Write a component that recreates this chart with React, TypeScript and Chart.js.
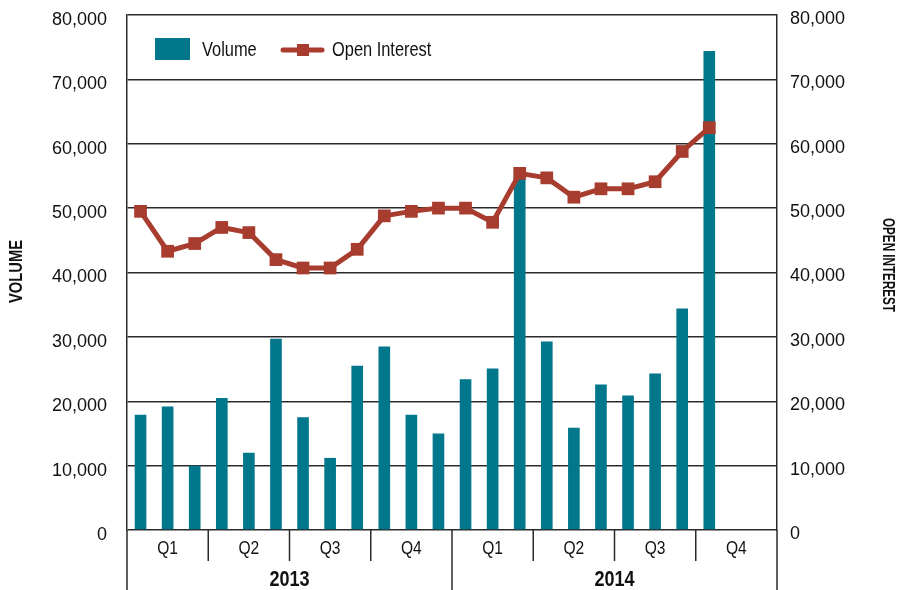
import React, { useEffect, useRef } from 'react';
import { Chart, registerables } from 'chart.js';

Chart.register(...registerables);

const months = [
  'Jan 2013', 'Feb 2013', 'Mar 2013', 'Apr 2013', 'May 2013', 'Jun 2013',
  'Jul 2013', 'Aug 2013', 'Sep 2013', 'Oct 2013', 'Nov 2013', 'Dec 2013',
  'Jan 2014', 'Feb 2014', 'Mar 2014', 'Apr 2014', 'May 2014', 'Jun 2014',
  'Jul 2014', 'Aug 2014', 'Sep 2014', 'Oct 2014', 'Nov 2014', 'Dec 2014',
];
const volume = [
  17900, 19200, 10000, 20500, 12000, 29700, 17500, 11200, 25500, 28500, 17900, 15000,
  23400, 25100, 55000, 29300, 15900, 22600, 20900, 24300, 34400, 74400, null, null,
];
const openInterest = [
  49500, 43300, 44500, 47000, 46200, 42000, 40700, 40700, 43600, 48800, 49500, 50000,
  50000, 47800, 55400, 54700, 51700, 53000, 53000, 54100, 58800, 62500, null, null,
];
const quarters = ['Q1', 'Q2', 'Q3', 'Q4'];
const years = ['2013', '2014'];
const axisMin = 0;
const axisMax = 80000;
const axisStep = 10000;

const FONT = '"Liberation Sans", Arial, sans-serif';
const NARROW = 0.82;
const TEAL = '#00778B';
const RED = '#A83C2F';
const INK = '#111111';
const RULE = '#2a2a2a';

// draw text horizontally condensed (emulates a narrow face)
function narrowText(
  ctx: CanvasRenderingContext2D,
  text: string,
  x: number,
  y: number,
  align: 'left' | 'center' | 'right',
  sx: number,
) {
  const w = ctx.measureText(text).width * sx;
  let x0 = x;
  if (align === 'center') x0 = x - w / 2;
  if (align === 'right') x0 = x - w;
  ctx.save();
  ctx.translate(x0, y);
  ctx.scale(sx, 1);
  ctx.textAlign = 'left';
  ctx.fillText(text, 0, 0);
  ctx.restore();
}

const overlay = {
  id: 'overlay',
  afterDraw(chart: any) {
    const ctx: CanvasRenderingContext2D = chart.ctx;
    const { left, right, top, bottom } = chart.chartArea;
    const xs = chart.scales.x;
    const H = chart.height;
    const step = xs.getPixelForValue(1) - xs.getPixelForValue(0);
    const edge = (i: number) => xs.getPixelForValue(i) - step / 2;

    ctx.save();
    // category brackets
    ctx.strokeStyle = RULE;
    ctx.lineWidth = 1.5;
    for (let q = 0; q <= 8; q++) {
      const px = q === 8 ? right : edge(q * 3);
      const isYear = q % 4 === 0;
      ctx.beginPath();
      ctx.moveTo(px, bottom);
      ctx.lineTo(px, isYear ? H : bottom + 31);
      ctx.stroke();
    }
    ctx.fillStyle = INK;
    ctx.textBaseline = 'middle';
    ctx.font = `19px ${FONT}`;
    for (let q = 0; q < 8; q++) {
      const cx = (xs.getPixelForValue(q * 3) + xs.getPixelForValue(q * 3 + 2)) / 2;
      narrowText(ctx, quarters[q % 4], cx, bottom + 19, 'center', NARROW);
    }
    ctx.font = `bold 22px ${FONT}`;
    for (let y = 0; y < years.length; y++) {
      const cx = (xs.getPixelForValue(y * 12) + xs.getPixelForValue(y * 12 + 11)) / 2;
      narrowText(ctx, years[y], cx, bottom + 50, 'center', NARROW);
    }

    // axis titles
    ctx.font = `bold 18px ${FONT}`;
    ctx.save();
    ctx.translate(17.5, 271.5);
    ctx.rotate(-Math.PI / 2);
    narrowText(ctx, 'VOLUME', 0, 0, 'center', 63 / ctx.measureText('VOLUME').width);
    ctx.restore();
    ctx.font = `bold 17px ${FONT}`;
    ctx.save();
    ctx.translate(888, 265);
    ctx.rotate(Math.PI / 2);
    narrowText(ctx, 'OPEN INTEREST', 0, 0, 'center', 94 / ctx.measureText('OPEN INTEREST').width);
    ctx.restore();

    // legend
    const lx = left + 28;
    const ly = top + 23;
    ctx.fillStyle = TEAL;
    ctx.fillRect(lx, ly, 35, 22);
    ctx.fillStyle = INK;
    ctx.font = `20px ${FONT}`;
    narrowText(ctx, chart.data.datasets[0].label, lx + 47, ly + 12, 'left', NARROW);
    const l2 = lx + 128;
    ctx.strokeStyle = RED;
    ctx.lineWidth = 5;
    ctx.lineCap = 'round';
    ctx.beginPath();
    ctx.moveTo(l2, ly + 12);
    ctx.lineTo(l2 + 39, ly + 12);
    ctx.stroke();
    ctx.fillStyle = RED;
    ctx.fillRect(l2 + 14, ly + 6, 12, 12);
    ctx.fillStyle = INK;
    narrowText(ctx, chart.data.datasets[1].label, l2 + 49, ly + 12, 'left', NARROW);
    ctx.restore();
  },
};

export default function App() {
  const ref = useRef<HTMLCanvasElement | null>(null);

  useEffect(() => {
    document.body.style.margin = '0';
    const canvas = ref.current;
    if (!canvas) return;
    const tickFont = { family: FONT, size: 18 };
    const fmt = (v: any) => Number(v).toLocaleString('en-US');
    const chart = new Chart(canvas, {
      data: {
        labels: months,
        datasets: [
          {
            type: 'bar',
            label: 'Volume',
            data: volume,
            backgroundColor: TEAL,
            yAxisID: 'y',
            order: 2,
            categoryPercentage: 1,
            barPercentage: 0.43,
          } as any,
          {
            type: 'line',
            label: 'Open Interest',
            data: openInterest,
            borderColor: RED,
            backgroundColor: RED,
            borderWidth: 5,
            borderJoinStyle: 'round',
            pointStyle: 'rect',
            pointRadius: 9,
            pointBorderWidth: 0,
            yAxisID: 'y2',
            order: 1,
            tension: 0,
          } as any,
        ],
      },
      options: {
        responsive: false,
        animation: false,
        layout: { padding: { top: 15, bottom: 60, left: 0, right: 0 } },
        plugins: {
          legend: { display: false },
          tooltip: { enabled: false },
        },
        scales: {
          x: {
            type: 'category',
            display: false,
            offset: true,
          },
          y: {
            position: 'left',
            min: axisMin,
            max: axisMax,
            ticks: {
              stepSize: axisStep,
              callback: fmt,
              font: tickFont,
              color: INK,
              padding: 20,
              labelOffset: 5,
            },
            grid: { color: RULE, lineWidth: 1.5, drawTicks: false },
            border: { display: true, color: RULE, width: 1.5 },
            afterFit: (s: any) => {
              s.width = 127;
              s.paddingTop = 0;
              s.paddingBottom = 0;
            },
          },
          y2: {
            position: 'right',
            min: axisMin,
            max: axisMax,
            ticks: {
              stepSize: axisStep,
              callback: fmt,
              font: tickFont,
              color: INK,
              padding: 13,
              labelOffset: 4,
            },
            grid: { display: false, drawTicks: false },
            border: { display: true, color: RULE, width: 1.5 },
            afterFit: (s: any) => {
              s.width = 120;
              s.paddingTop = 0;
              s.paddingBottom = 0;
            },
          },
        },
      } as any,
      plugins: [overlay],
    });
    return () => chart.destroy();
  }, []);

  return (
    <div style={{ width: 897, height: 590, background: '#fff' }}>
      <canvas ref={ref} width={897} height={590} style={{ display: 'block' }} />
    </div>
  );
}
